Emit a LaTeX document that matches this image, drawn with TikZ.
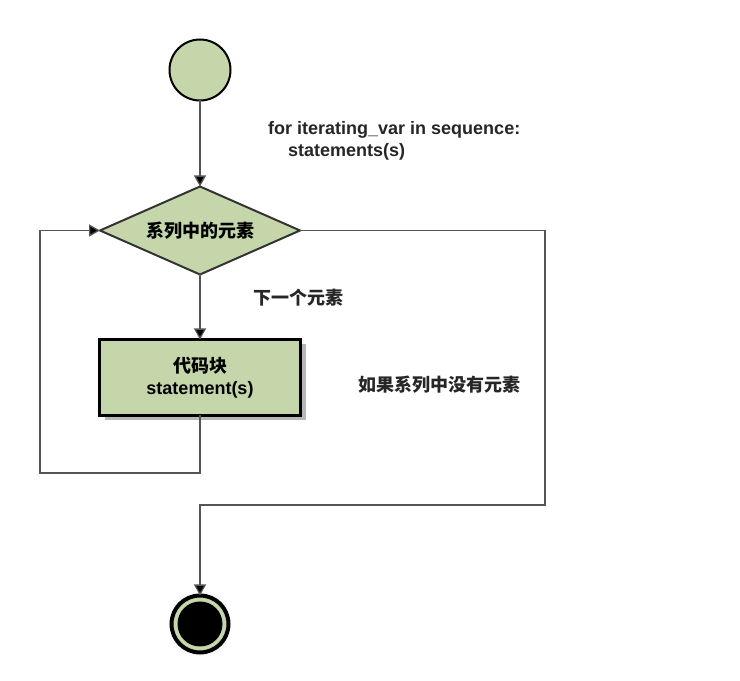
\documentclass[tikz,border=0pt]{standalone}
\usepackage{fontspec}
\setmainfont{Liberation Sans}
\newfontfamily\cjk{Noto Sans CJK SC}
\usetikzlibrary{arrows.meta, positioning, shapes.geometric, shadows}
\definecolor{cNode}{RGB}{197,214,170}
\definecolor{cLine}{RGB}{85,85,85}
\tikzset{
  flow/.style={draw=cLine, line width=1.3pt, -{Triangle[length=11pt, width=12pt, fill=black]}},
  txt/.style={font=\fontsize{18}{22}\selectfont\bfseries, text=black!85, inner sep=0pt},
  cjktxt/.style={font=\fontsize{18}{22}\selectfont\cjk\bfseries, text=black!85, inner sep=0pt}
}
\newcommand{\zh}[1]{{\cjk\bfseries #1}}

\begin{document}
\begin{tikzpicture}[x=1pt, y=1pt]
  \useasboundingbox (0,0) rectangle (740,681);
  \fill[white] (0,0) rectangle (740,681);

  % main nodes
  \node[circle, draw=black, line width=2pt, fill=cNode, minimum size=61pt, outer sep=0pt]
    (start) at (200,611) {};
  \node[diamond, aspect=2.27, draw=black!80, line width=2pt, fill=cNode, minimum width=200pt,
    minimum height=88pt, inner sep=0pt, outer sep=0pt, below=86pt of start,
    font=\fontsize{18}{22}\selectfont] (cond) {\zh{系列中的元素}};
  \node[rectangle, draw=black, line width=2.5pt, fill=cNode, minimum width=201pt,
    minimum height=76pt, align=center, outer sep=0pt, below=65pt of cond,
    font=\fontsize{18}{22}\selectfont\bfseries,
    drop shadow={shadow xshift=5pt, shadow yshift=-5pt, fill=black!35, opacity=0.8}]
    (block) {\zh{代码块}\\statement(s)};
  \node[circle, draw=black, line width=4pt, fill=cNode, minimum size=57pt, outer sep=0pt]
    (stop) at (200,57) {};
  \node[circle, fill=black, minimum size=45pt] (stopcore) at (stop.center) {};

  % turning points
  \coordinate (loopBL) at (40,208);
  \coordinate (exitTR) at (545,176);

  % connectors
  \draw[flow] (start) -- (cond);
  \draw[flow] (cond) -- (block);
  \draw[flow] (block.south) |- (loopBL) |- (cond.west);
  \draw[flow] (cond.east) -| (exitTR) -| (stop.north);

  % labels
  \node[txt, anchor=west, align=left] (code) at (268,540)
    {for iterating\_var in sequence:\\\hspace{20pt}statements(s)};
  \node[cjktxt, anchor=west] (next) at (253,383) {下一个元素};
  \node[cjktxt, anchor=west] (empty) at (358,296) {如果系列中没有元素};
\end{tikzpicture}
\end{document}
